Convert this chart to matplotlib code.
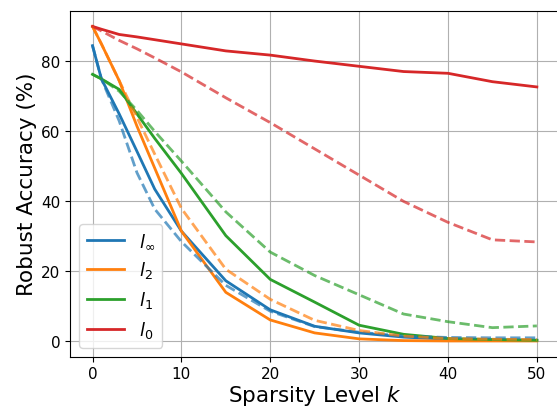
import matplotlib
matplotlib.use("Agg")
import matplotlib.pyplot as plt

# sparsity levels k
k = [0, 1, 3, 5, 7, 10, 15, 20, 25, 30, 35, 40, 45, 50]

# robust accuracy (%) per norm; solid = first method, dashed = second
linf_solid = [84.5, 75.0, 65.0, 54.3, 43.5, 31.5, 17.3, 9.0, 4.3, 2.4, 1.2, 0.6, 0.4, 0.3]
linf_dash = [84.5, 75.0, 63.0, 48.2, 37.8, 28.5, 16.0, 8.6, 4.2, 2.6, 1.5, 1.1, 1.0, 1.0]
l2_solid = [90.0, 85.0, 74.5, 61.5, 49.5, 31.5, 14.0, 6.1, 2.4, 0.7, 0.2, 0.1, 0.1, 0.1]
l2_dash = [90.0, 85.0, 74.5, 64.0, 53.5, 38.0, 20.6, 12.0, 6.0, 3.1, 1.5, 0.8, 0.6, 0.5]
l1_solid = [76.3, 75.0, 72.0, 65.0, 58.0, 48.0, 30.2, 17.7, 11.2, 4.6, 2.0, 0.8, 0.5, 0.3]
l1_dash = [76.3, 75.0, 71.5, 66.0, 60.0, 51.5, 37.0, 25.5, 18.8, 13.3, 7.8, 5.6, 3.9, 4.4]
l0_solid = [90.0, 89.2, 87.7, 87.0, 86.2, 85.0, 83.0, 81.8, 80.1, 78.6, 77.1, 76.6, 74.2, 72.7]
l0_dash = [90.0, 88.7, 86.0, 83.6, 81.0, 77.0, 69.6, 62.5, 55.0, 47.5, 40.0, 34.0, 29.0, 28.4]

labels = [r"$l_\infty$", r"$l_2$", r"$l_1$", r"$l_0$"]
colors = ["C0", "C1", "C2", "C3"]
solid = [linf_solid, l2_solid, l1_solid, l0_solid]
dashed = [linf_dash, l2_dash, l1_dash, l0_dash]

fig = plt.figure(figsize=(5.57, 4.10), dpi=100)
# right edge of the axes sits just past the figure edge, as in the source
ax = fig.add_axes([0.1262, 0.1276, 0.8775, 0.8439])

for lab, c, ys in zip(labels, colors, solid):
    ax.plot(k, ys, color=c, lw=2, label=lab)
for c, ys in zip(colors, dashed):
    ax.plot(k, ys, color=c, lw=2, ls="--", alpha=0.7)

ax.set_xticks([0, 10, 20, 30, 40, 50])
ax.set_yticks([0, 20, 40, 60, 80])
ax.tick_params(labelsize=11)
ax.set_xlabel("Sparsity Level $k$", fontsize=15.5, labelpad=1)
ax.set_ylabel("Robust Accuracy (%)", fontsize=15.5, labelpad=3)
ax.grid(True)
ax.legend(loc="lower left", fontsize=13, handlelength=2.1)

fig.savefig("out.png", dpi=100)
